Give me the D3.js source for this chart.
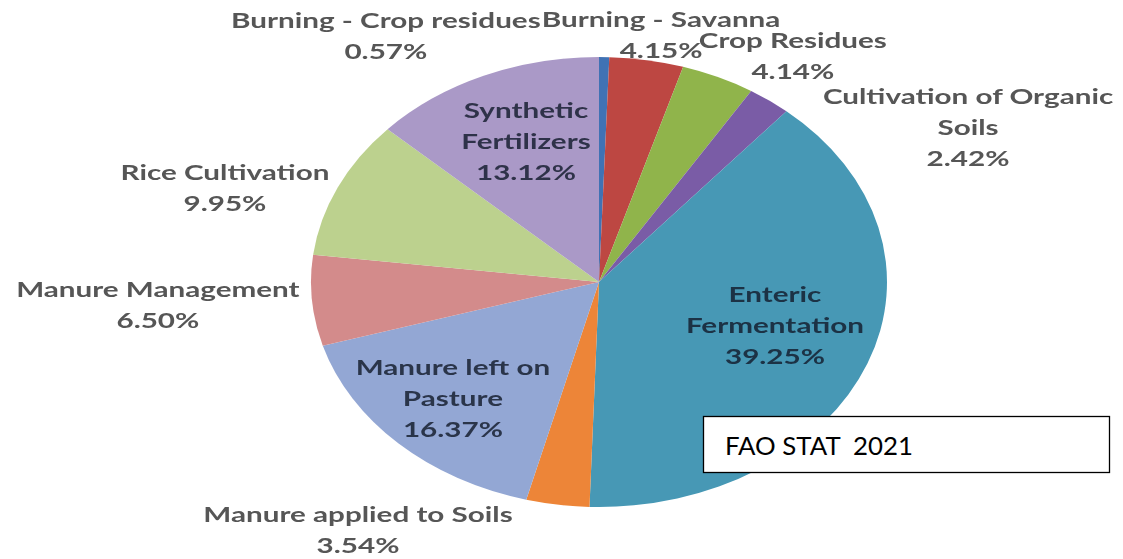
<!DOCTYPE html>
<html>
<head>
<meta charset="utf-8">
<script src="https://cdn.jsdelivr.net/npm/d3@7"></script>
<style>
  html, body { margin: 0; padding: 0; background: #fff; }
  svg { display: block; }
</style>
</head>
<body>
<svg id="chart" width="1123" height="559"></svg>
<script>
// Agricultural emission sources and their share of the total (%)
const categories = [
  "Burning - Crop residues",
  "Burning - Savanna",
  "Crop Residues",
  "Cultivation of Organic Soils",
  "Enteric Fermentation",
  "Manure applied to Soils",
  "Manure left on Pasture",
  "Manure Management",
  "Rice Cultivation",
  "Synthetic Fertilizers"
];
const shares = [0.57, 4.15, 4.14, 2.42, 39.25, 3.54, 16.37, 6.50, 9.95, 13.12];

// How each category name wraps in its data label
const nameLines = [
  ["Burning - Crop residues"],
  ["Burning - Savanna"],
  ["Crop Residues"],
  ["Cultivation of Organic", "Soils"],
  ["Enteric", "Fermentation"],
  ["Manure applied to Soils"],
  ["Manure left on", "Pasture"],
  ["Manure Management"],
  ["Rice Cultivation"],
  ["Synthetic", "Fertilizers"]
];

const sliceColors = [
  "#4172b4", "#bd4642", "#90b44c", "#7a5ca6", "#4698b5",
  "#ed8537", "#93a7d4", "#d38b8b", "#bcd18e", "#aa99c7"
];

// Label placement around the pie: [angle in degrees clockwise from 12 o'clock, radius / R]
const labelPolar = [
  [325.9, 1.32], [11.1, 1.12], [33.8, 1.21], [61.8, 1.454], [107.6, 0.641],
  [217.2, 1.384], [224.4, 0.725], [266.2, 1.535], [287.8, 1.364], [337.9, 0.674]
];
const insideLabel = [false, false, false, false, true, false, true, false, false, true];

const sourceNote = "FAO STAT  2021";

const svg = d3.select("#chart");
const R = 225;          // vertical radius of the pie
const stretch = 1.28;   // horizontal stretch of the pie
const textStretch = 1.13;
const cx = 599, cy = 282;
const lineH = 31;

const defs = svg.append("defs");
defs.append("filter").attr("id", "soft")
  .attr("x", "-5%").attr("y", "-5%").attr("width", "110%").attr("height", "110%")
  .append("feGaussianBlur").attr("stdDeviation", 0.6);

const g = svg.append("g")
  .attr("transform", `translate(${cx},${cy}) scale(${stretch},1)`)
  .attr("filter", "url(#soft)");

const pie = d3.pie().sort(null).value(d => d).startAngle(0).endAngle(2 * Math.PI);
const arcs = pie(shares);
const arc = d3.arc().innerRadius(0).outerRadius(R);

g.selectAll("path.slice")
  .data(arcs)
  .join("path")
  .attr("class", "slice")
  .attr("d", arc)
  .attr("fill", (d, i) => sliceColors[i]);

const fmt = v => d3.format(".2f")(v) + "%";

const labels = g.selectAll("g.label")
  .data(arcs)
  .join("g")
  .attr("class", "label")
  .attr("transform", (d, i) => {
    const a = labelPolar[i][0] * Math.PI / 180;
    const r = labelPolar[i][1] * R;
    return `translate(${r * Math.sin(a)},${-r * Math.cos(a)}) scale(${textStretch},1)`;
  });

labels.each(function (d, i) {
  const lines = nameLines[i].concat([fmt(shares[i])]);
  const n = lines.length;
  const t = d3.select(this).append("text")
    .attr("text-anchor", "middle")
    .attr("font-family", "Lato, 'Open Sans', sans-serif")
    .attr("font-weight", 700)
    .attr("font-size", 20.5)
    .attr("fill", insideLabel[i] ? "#131b2c" : "#565656")
    .attr("fill-opacity", insideLabel[i] ? 0.82 : 1);
  lines.forEach((s, k) => {
    t.append("tspan")
      .attr("x", 0)
      .attr("y", (k - (n - 1) / 2) * lineH + 7.5)
      .text(s);
  });
});

// Source box
const box = svg.append("g");
box.append("rect")
  .attr("x", 703.5).attr("y", 416.5)
  .attr("width", 406).attr("height", 56)
  .attr("fill", "#fff")
  .attr("stroke", "#000")
  .attr("stroke-width", 1.3);
box.append("text")
  .attr("x", 725).attr("y", 455)
  .attr("font-family", "Lato, 'Open Sans', sans-serif")
  .attr("font-size", 25.8)
  .attr("fill", "#000")
  .style("white-space", "pre")
  .text(sourceNote);
</script>
</body>
</html>
